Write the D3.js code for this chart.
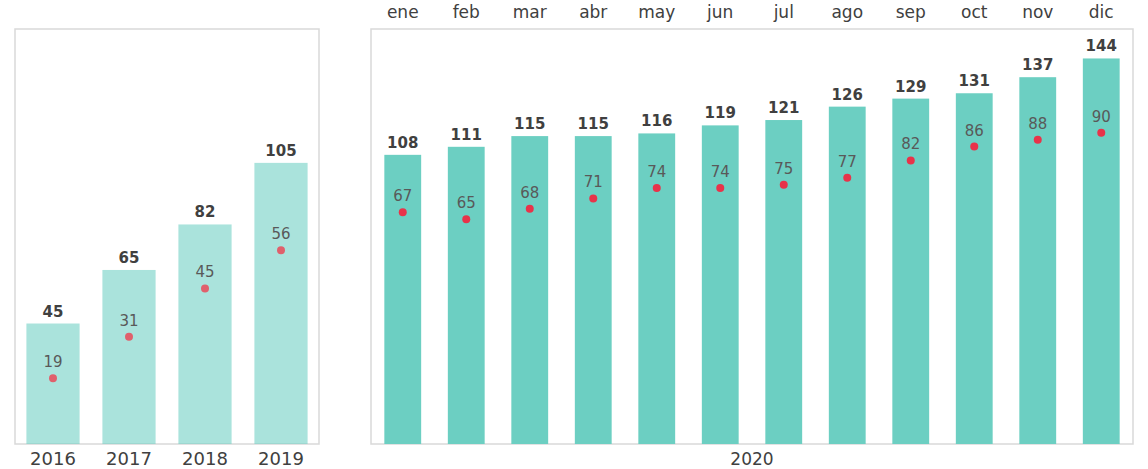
<!DOCTYPE html>
<html>
<head>
<meta charset="utf-8">
<script src="https://cdn.jsdelivr.net/npm/d3@7"></script>
<style>
  body { margin: 0; background: #fff; }
  text { font-family: "DejaVu Sans", sans-serif; }
</style>
</head>
<body>
<div id="chart"></div>
<script>
// data
const years = ["2016", "2017", "2018", "2019"];
const yearTotals = [45, 65, 82, 105];
const yearSub = [19, 31, 45, 56];

const months = ["ene", "feb", "mar", "abr", "may", "jun", "jul", "ago", "sep", "oct", "nov", "dic"];
const monthTotals = [108, 111, 115, 115, 116, 119, 121, 126, 129, 131, 137, 144];
const monthSub = [67, 65, 68, 71, 74, 74, 75, 77, 82, 86, 88, 90];
const monthYear = "2020";

const W = 1148, H = 469;
const plotTop = 29, plotBottom = 444;

const svg = d3.select("#chart").append("svg")
  .attr("width", W).attr("height", H);

// both panels share the same vertical scales
const yBar = d3.scaleLinear().domain([0, 155]).range([plotBottom, plotTop]);
const yDot = d3.scaleLinear().domain([0, 120]).range([plotBottom, plotTop]);

function panel(cats, totals, subs, x0, x1, pad, barColor, barOpacity, dotColor) {
  const g = svg.append("g");
  const x = d3.scaleBand().domain(cats).range([x0, x1])
    .paddingInner(pad).paddingOuter(pad / 2);

  g.append("rect")
    .attr("x", x0).attr("y", plotTop)
    .attr("width", x1 - x0).attr("height", plotBottom - plotTop)
    .attr("fill", "none").attr("stroke", "#d9d9d9").attr("stroke-width", 1.5);

  const rows = cats.map((c, i) => ({c: c, t: totals[i], s: subs[i]}));

  g.selectAll(".bar").data(rows).join("rect")
    .attr("x", d => x(d.c))
    .attr("y", d => yBar(d.t))
    .attr("width", x.bandwidth())
    .attr("height", d => plotBottom - yBar(d.t))
    .attr("fill", barColor)
    .attr("fill-opacity", barOpacity);

  g.selectAll(".tot").data(rows).join("text")
    .attr("x", d => x(d.c) + x.bandwidth() / 2)
    .attr("y", d => yBar(d.t) - 7)
    .attr("text-anchor", "middle")
    .style("font-size", "15px").style("font-weight", "bold")
    .attr("fill", "#404040")
    .text(d => d.t);

  g.selectAll(".dot").data(rows).join("circle")
    .attr("cx", d => x(d.c) + x.bandwidth() / 2)
    .attr("cy", d => yDot(d.s))
    .attr("r", 4)
    .attr("fill", dotColor);

  g.selectAll(".sub").data(rows).join("text")
    .attr("x", d => x(d.c) + x.bandwidth() / 2)
    .attr("y", d => yDot(d.s) - 11)
    .attr("text-anchor", "middle")
    .style("font-size", "15px")
    .attr("fill", "#595959")
    .text(d => d.s);

  return x;
}

// left panel: yearly
const xYear = panel(years, yearTotals, yearSub, 15, 319, 0.3, "#6ccfc2", 0.58, "#e0606c");
const yearAxis = svg.append("g")
  .attr("transform", `translate(0,${plotBottom})`)
  .call(d3.axisBottom(xYear).tickSize(0).tickPadding(8));
yearAxis.select(".domain").remove();
yearAxis.selectAll("text")
  .style("font-size", "18px").attr("fill", "#404040")
  .style("font-family", "DejaVu Sans");

// right panel: monthly
const xMonth = panel(months, monthTotals, monthSub, 371, 1133, 0.42, "#6ccfc2", 1, "#e8334a");
const monthAxis = svg.append("g")
  .attr("transform", `translate(0,${plotTop})`)
  .call(d3.axisTop(xMonth).tickSize(0).tickPadding(11));
monthAxis.select(".domain").remove();
monthAxis.selectAll("text")
  .style("font-size", "17px").attr("fill", "#404040")
  .style("font-family", "DejaVu Sans");

svg.append("text")
  .attr("x", (371 + 1133) / 2)
  .attr("y", 465)
  .attr("text-anchor", "middle")
  .style("font-size", "17px")
  .attr("fill", "#404040")
  .text(monthYear);
</script>
</body>
</html>
